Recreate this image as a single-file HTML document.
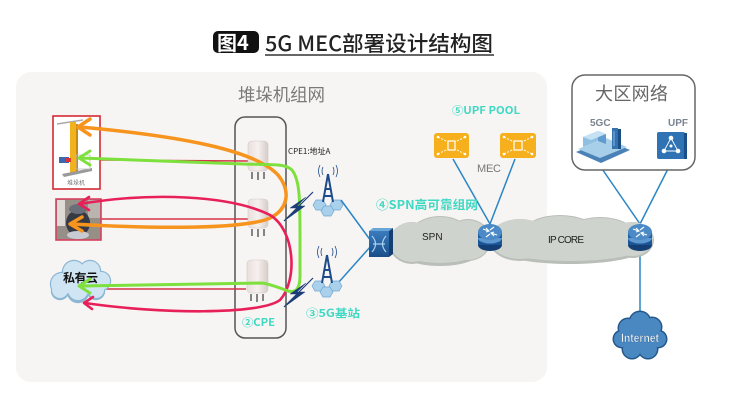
<!DOCTYPE html>
<html><head><meta charset="utf-8">
<style>
html,body{margin:0;padding:0;background:#fff;}
svg{display:block;}
text{font-family:"Liberation Sans","Noto Sans CJK SC",sans-serif;}
.cjk{font-family:"Noto Sans CJK SC","Liberation Sans",sans-serif;}
</style></head>
<body>
<svg width="740" height="414" viewBox="0 0 740 414" xmlns="http://www.w3.org/2000/svg">
<rect width="740" height="414" fill="#fff"/>

<!-- Title -->
<rect x="213" y="31" width="46" height="22" rx="5" fill="#111"/>
<text x="217" y="50" font-size="20" font-weight="bold" fill="#fff" class="cjk">图4</text>
<text x="265" y="51" font-size="21" font-weight="500" fill="#222" class="cjk" textLength="228" lengthAdjust="spacingAndGlyphs">5G MEC部署设计结构图</text>
<line x1="265" y1="55" x2="494" y2="55" stroke="#333" stroke-width="1.5"/>

<!-- main panel -->
<rect x="16" y="72" width="531" height="310" rx="15" fill="#f6f5f3"/>
<text x="238" y="101" font-size="17.5" fill="#7a7a7a" class="cjk" textLength="87">堆垛机组网</text>

<!-- CPE box -->
<rect x="235" y="117" width="51" height="221" rx="10" fill="none" stroke="#555" stroke-width="1.5"/>

<!-- thin red lines -->
<g stroke="#d6344a" stroke-width="1.4">
<line x1="100" y1="160" x2="248" y2="161"/>
<line x1="101" y1="219" x2="248" y2="219"/>
<line x1="105" y1="289" x2="246" y2="289"/>
</g>

<!-- CPE devices -->
<defs>
<linearGradient id="cpeg" x1="0" y1="0" x2="1" y2="0">
<stop offset="0" stop-color="#e9dfdc"/><stop offset="0.5" stop-color="#f6f0ee"/><stop offset="1" stop-color="#d6ccc9"/>
</linearGradient>
<linearGradient id="swg" x1="0" y1="0" x2="0" y2="1">
<stop offset="0" stop-color="#3a7bbd"/><stop offset="1" stop-color="#1a4e8a"/>
</linearGradient>
</defs>
<g>
<rect x="248" y="141" width="20" height="30" rx="4" fill="url(#cpeg)" stroke="#d3c8c5" stroke-width="0.6"/>
<g stroke="#777" stroke-width="1.8"><line x1="252" y1="172" x2="252" y2="179"/><line x1="258" y1="172" x2="258" y2="180"/><line x1="264" y1="172" x2="264" y2="179"/></g>
<rect x="248" y="199" width="20" height="29" rx="4" fill="url(#cpeg)" stroke="#d3c8c5" stroke-width="0.6"/>
<g stroke="#777" stroke-width="1.8"><line x1="252" y1="229" x2="252" y2="236"/><line x1="258" y1="229" x2="258" y2="237"/><line x1="264" y1="229" x2="264" y2="236"/></g>
<rect x="247" y="260" width="21" height="33" rx="4" fill="url(#cpeg)" stroke="#d3c8c5" stroke-width="0.6"/>
<g stroke="#777" stroke-width="1.8"><line x1="251" y1="294" x2="251" y2="301"/><line x1="257" y1="294" x2="257" y2="302"/><line x1="263" y1="294" x2="263" y2="301"/></g>
</g>
<text x="288" y="154" font-size="8" fill="#222" class="cjk">CPE1:地址A</text>
<text x="242" y="326" font-size="10.5" font-weight="bold" fill="#3fd8c2" class="cjk" textLength="33" lengthAdjust="spacingAndGlyphs">②CPE</text>

<!-- stacker box -->
<rect x="53" y="116" width="47" height="73" fill="#fff" stroke="#d42a36" stroke-width="1.6"/>
<line x1="57" y1="124" x2="83" y2="120" stroke="#aaa" stroke-width="1.5"/>
<rect x="70" y="122" width="6" height="52" fill="#f0b21e"/>
<rect x="76" y="124" width="2" height="48" fill="#c88a10"/>
<polygon points="62,174 92,168 92,171 64,177" fill="#999"/>
<rect x="76" y="155" width="14" height="14" fill="none" stroke="#bbb" stroke-width="0.8"/>
<rect x="59" y="157" width="10" height="6" fill="#3a67b0"/>
<rect x="66" y="158" width="5" height="4" fill="#d33"/>
<text x="76" y="185" font-size="6" fill="#777" text-anchor="middle" class="cjk">堆垛机</text>

<!-- robot photo -->
<rect x="56" y="199" width="45" height="41" fill="#968f88" stroke="#d84060" stroke-width="1.6"/>
<rect x="57" y="200" width="8" height="26" fill="#dedbd6"/>
<rect x="88" y="200" width="12" height="18" fill="#b9b4ae"/>
<ellipse cx="78" cy="223" rx="12" ry="13" fill="#363a44"/>
<ellipse cx="78" cy="209" rx="9" ry="5" fill="#6a6e78"/>
<ellipse cx="78" cy="235" rx="11" ry="4" fill="#c8ccd2"/>

<!-- private cloud -->
<g fill="#8db6d2">
<circle cx="62" cy="284" r="12.2"/><circle cx="74" cy="272" r="12.2"/><circle cx="90" cy="271" r="11.2"/><circle cx="101" cy="281" r="10.2"/><circle cx="96" cy="291" r="9.2"/><circle cx="78" cy="292" r="11.2"/><circle cx="60" cy="291" r="9.2"/>
</g>
<g fill="#cfe5f3">
<circle cx="62" cy="284" r="11"/><circle cx="74" cy="272" r="11"/><circle cx="90" cy="271" r="10"/><circle cx="101" cy="281" r="9"/><circle cx="96" cy="290" r="8"/><circle cx="78" cy="290" r="10"/><circle cx="60" cy="290" r="8"/><circle cx="80" cy="282" r="14"/>
</g>
<text x="63" y="282" font-size="12" font-weight="bold" fill="#111" class="cjk" textLength="35">私有云</text>

<!-- curved arrows -->
<g fill="none" stroke-linecap="round" stroke-linejoin="round">
<path d="M80,127 C180,136 255,150 278,175 C292,192 288,212 265,220 C230,230 140,228 72,224" stroke="#f7941d" stroke-width="3.5"/>
<polyline points="90,119 78,127 90,135" stroke="#f7941d" stroke-width="3.5"/>
<polyline points="82,217 70,224 82,231" stroke="#f7941d" stroke-width="3.5"/>

<path d="M80,204 C150,192 230,195 270,215 C295,230 298,280 280,300 C260,315 160,314 85,303" stroke="#e8205a" stroke-width="2.6"/>
<polyline points="89,197 79,204 89,210" stroke="#e8205a" stroke-width="2.6"/>
<polyline points="93,297 84,303 92,309" stroke="#e8205a" stroke-width="2.6"/>

<path d="M80,158 L243,164 C270,165 285,163 292,170 C300,180 300,200 300,240 L300,275 C300,290 295,293 288,291 C280,288 270,284 262,283 L80,286" stroke="#7ee03c" stroke-width="3"/>
<polyline points="90,151 79,158 90,165" stroke="#7ee03c" stroke-width="3"/>
<polyline points="90,279 79,286 90,293" stroke="#7ee03c" stroke-width="3"/>
</g>

<!-- lightning -->
<g fill="#1b3c78" stroke="#1b3c78">
<line x1="313" y1="192" x2="284" y2="221" stroke-width="1.2"/>
<polygon points="306,197 290,208 298,208 287,219 305,206 297,206" stroke-width="0.5"/>
<line x1="313" y1="278" x2="284" y2="307" stroke-width="1.2"/>
<polygon points="306,283 290,294 298,294 287,305 305,292 297,292" stroke-width="0.5"/>
</g>

<!-- blue links -->
<g stroke="#2b86c5" stroke-width="1.5">
<line x1="341" y1="200" x2="371" y2="241"/>
<line x1="338" y1="283" x2="371" y2="246"/>
<line x1="453" y1="159" x2="490" y2="224"/>
<line x1="515" y1="159" x2="490" y2="224"/>
<line x1="598" y1="163" x2="640" y2="224"/>
<line x1="672" y1="161" x2="640" y2="224"/>
<line x1="640" y1="250" x2="640" y2="316"/>
</g>

<!-- towers -->
<g>
<g fill="#a9d1ec" stroke="#6fa5cf" stroke-width="0.7">
<polygon points="313,205 316,200 323,200 326,205 323,210 316,210"/>
<polygon points="330,205 333,200 340,200 343,205 340,210 333,210"/>
<polygon points="321,211 324,206 331,206 334,211 331,216 324,216"/>
</g>
<path d="M328,174 L323,202 M328,174 L333,202 M325,189 L331,189 M324,196 L332,196" stroke="#1d4a8a" stroke-width="2" fill="none"/>
<g fill="none" stroke="#1d4a8a" stroke-width="0.8">
<path d="M323,167 Q321,171 323,175"/><path d="M320,165 Q317,171 320,177"/>
<path d="M333,167 Q335,171 333,175"/><path d="M336,165 Q339,171 336,177"/>
</g>
<g fill="#a9d1ec" stroke="#6fa5cf" stroke-width="0.7">
<polygon points="312,286 315,281 322,281 325,286 322,291 315,291"/>
<polygon points="329,286 332,281 339,281 342,286 339,291 332,291"/>
<polygon points="320,292 323,287 330,287 333,292 330,297 323,297"/>
</g>
<path d="M327,255 L322,283 M327,255 L332,283 M324,270 L330,270 M323,277 L331,277" stroke="#1d4a8a" stroke-width="2" fill="none"/>
<g fill="none" stroke="#1d4a8a" stroke-width="0.8">
<path d="M322,248 Q320,252 322,256"/><path d="M319,246 Q316,252 319,258"/>
<path d="M332,248 Q334,252 332,256"/><path d="M335,246 Q338,252 335,258"/>
</g>
</g>
<text x="306" y="317" font-size="11" font-weight="bold" fill="#3fd8c2" class="cjk" textLength="54" lengthAdjust="spacingAndGlyphs">③5G基站</text>

<!-- SPN/IP core cloud -->
<g fill="#b9beb8">
<ellipse cx="412" cy="243" rx="23" ry="21"/><ellipse cx="440" cy="234" rx="29" ry="18"/><ellipse cx="468" cy="240" rx="23" ry="21"/><ellipse cx="440" cy="251" rx="41" ry="15"/>
<ellipse cx="520" cy="240" rx="31" ry="21"/><ellipse cx="560" cy="232" rx="36" ry="17"/><ellipse cx="600" cy="236" rx="36" ry="19"/><ellipse cx="632" cy="240" rx="22" ry="18"/><ellipse cx="570" cy="250" rx="71" ry="14"/>
</g>
<g fill="#cfd3cd">
<ellipse cx="412" cy="242" rx="22" ry="20"/><ellipse cx="440" cy="234" rx="28" ry="17"/><ellipse cx="468" cy="240" rx="22" ry="20"/><ellipse cx="440" cy="249" rx="40" ry="14"/>
<ellipse cx="520" cy="239" rx="30" ry="20"/><ellipse cx="560" cy="232" rx="35" ry="16"/><ellipse cx="600" cy="236" rx="35" ry="18"/><ellipse cx="632" cy="239" rx="21" ry="17"/><ellipse cx="570" cy="248" rx="70" ry="13"/>
</g>
<text x="422" y="240" font-size="10" fill="#222">SPN</text>
<text x="548" y="243" font-size="10" fill="#222" textLength="36">IP CORE</text>

<!-- SPN switch -->
<polygon points="369,231 373,228 393,228 389,231" fill="#6aa5d8"/>
<polygon points="389,231 393,228 393,254 389,257" fill="#153f70"/>
<rect x="369" y="231" width="20" height="26" fill="url(#swg)"/>
<g stroke="#a8d2f0" stroke-width="1.2" fill="none">
<path d="M372,236 Q379,244 372,252"/><path d="M386,236 Q379,244 386,252"/>
<line x1="373" y1="244" x2="385" y2="244"/>
</g>

<text x="376" y="209" font-size="12" font-weight="bold" fill="#3fd8c2" class="cjk" textLength="102" lengthAdjust="spacingAndGlyphs">④SPN高可靠组网</text>
<text x="452" y="114" font-size="10.5" font-weight="bold" fill="#3fd8c2" class="cjk" textLength="68" lengthAdjust="spacingAndGlyphs">⑤UPF POOL</text>
<text x="477" y="172" font-size="11" fill="#777" textLength="24">MEC</text>

<!-- UPF pool boxes -->
<g>
<rect x="434" y="133" width="35" height="25" rx="3" fill="#f7b01d"/>
<g stroke="#fff" stroke-width="1" stroke-dasharray="2,1.5" fill="none">
<line x1="438" y1="137" x2="448" y2="142"/><line x1="465" y1="137" x2="455" y2="142"/>
<line x1="438" y1="154" x2="448" y2="149"/><line x1="465" y1="154" x2="455" y2="149"/>
</g>
<rect x="448" y="141" width="7" height="9" fill="none" stroke="#fff" stroke-width="1.2"/>
<g fill="#fff"><circle cx="438" cy="137" r="1.3"/><circle cx="465" cy="137" r="1.3"/><circle cx="438" cy="154" r="1.3"/><circle cx="465" cy="154" r="1.3"/></g>
<rect x="500" y="133" width="36" height="25" rx="3" fill="#f7b01d"/>
<g stroke="#fff" stroke-width="1" stroke-dasharray="2,1.5" fill="none">
<line x1="504" y1="137" x2="514" y2="142"/><line x1="532" y1="137" x2="522" y2="142"/>
<line x1="504" y1="154" x2="514" y2="149"/><line x1="532" y1="154" x2="522" y2="149"/>
</g>
<rect x="514" y="141" width="8" height="9" fill="none" stroke="#fff" stroke-width="1.2"/>
<g fill="#fff"><circle cx="504" cy="137" r="1.3"/><circle cx="532" cy="137" r="1.3"/><circle cx="504" cy="154" r="1.3"/><circle cx="532" cy="154" r="1.3"/></g>
</g>

<!-- routers -->
<g>
<ellipse cx="490" cy="245" rx="12" ry="6" fill="#143f74"/>
<rect x="478" y="238" width="24" height="7" fill="#1b5596"/>
<ellipse cx="490" cy="238" rx="12" ry="5.5" fill="#5d98d0"/>
<rect x="478" y="232" width="24" height="6" fill="#1e5ea3"/>
<ellipse cx="490" cy="232" rx="12" ry="8" fill="#4b8ac6"/>
<g stroke="#fff" stroke-width="1.1" fill="none">
<path d="M483,229 L489,231 M486,228 L489,231 L486,232"/><path d="M497,235 L491,233 M494,236 L491,233 L494,232"/>
<path d="M494,227 L490,230"/><path d="M486,237 L490,234"/>
</g>
</g>
<g>
<ellipse cx="640" cy="245" rx="12" ry="6" fill="#143f74"/>
<rect x="628" y="238" width="24" height="7" fill="#1b5596"/>
<ellipse cx="640" cy="238" rx="12" ry="5.5" fill="#5d98d0"/>
<rect x="628" y="232" width="24" height="6" fill="#1e5ea3"/>
<ellipse cx="640" cy="232" rx="12" ry="8" fill="#4b8ac6"/>
<g stroke="#fff" stroke-width="1.1" fill="none">
<path d="M633,229 L639,231 M636,228 L639,231 L636,232"/><path d="M647,235 L641,233 M644,236 L641,233 L644,232"/>
<path d="M644,227 L640,230"/><path d="M636,237 L640,234"/>
</g>
</g>

<!-- region box -->
<rect x="572" y="75" width="123" height="95" rx="13" fill="#fff" stroke="#666" stroke-width="1.5"/>
<text x="595" y="100" font-size="18" fill="#666" class="cjk" textLength="73">大区网络</text>
<text x="590" y="126" font-size="10" font-weight="bold" fill="#7a8490">5GC</text>
<text x="668" y="126" font-size="10" font-weight="bold" fill="#7a8490">UPF</text>
<!-- 5GC icon -->
<polygon points="576,152 606,140 630,150 601,163" fill="#4a82b8"/>
<polygon points="578,149 606,138 627,147 600,158" fill="#a8cfe9"/>
<polygon points="583,147 598,141 598,131 583,137" fill="#8fc0e1"/>
<polygon points="598,141 606,144 606,134 598,131" fill="#5f9bcf"/>
<polygon points="583,137 598,131 606,134 591,140" fill="#c5e1f3"/>
<rect x="612" y="128" width="6" height="21" fill="#3573b0"/>
<rect x="618" y="129" width="3" height="20" fill="#1c4f85"/>
<line x1="614" y1="131" x2="614" y2="146" stroke="#9cc8ec" stroke-width="0.8"/>
<!-- UPF icon -->
<rect x="657" y="132" width="28" height="27" rx="2" fill="#2f73b5"/>
<rect x="684" y="133" width="3" height="26" fill="#1b4f87"/>
<g stroke="#fff" stroke-width="0.9" fill="none"><polygon points="671,138 664,151 678,151"/></g>
<g fill="#fff"><circle cx="671" cy="138" r="2.3"/><circle cx="664" cy="151" r="2.3"/><circle cx="678" cy="151" r="2.3"/><circle cx="671" cy="146" r="1.5"/></g>

<!-- Internet cloud -->
<g fill="#24588c">
<circle cx="628" cy="328" r="10.5"/><circle cx="640" cy="322" r="11.5"/><circle cx="652" cy="327" r="10.5"/><circle cx="658" cy="339" r="9.5"/><circle cx="648" cy="349" r="10.5"/><circle cx="632" cy="349" r="10.5"/><circle cx="622" cy="339" r="9.5"/>
</g>
<g fill="#4a88c2">
<circle cx="628" cy="328" r="9"/><circle cx="640" cy="322" r="10"/><circle cx="652" cy="327" r="9"/><circle cx="658" cy="339" r="8"/><circle cx="648" cy="349" r="9"/><circle cx="632" cy="349" r="9"/><circle cx="622" cy="339" r="8"/><circle cx="640" cy="337" r="14"/>
</g>
<text x="640" y="342" font-size="11.5" font-weight="bold" fill="#eef6fc" stroke="#1e4f80" stroke-width="0.3" text-anchor="middle" textLength="38" lengthAdjust="spacingAndGlyphs">Internet</text>
</svg>
</body></html>
